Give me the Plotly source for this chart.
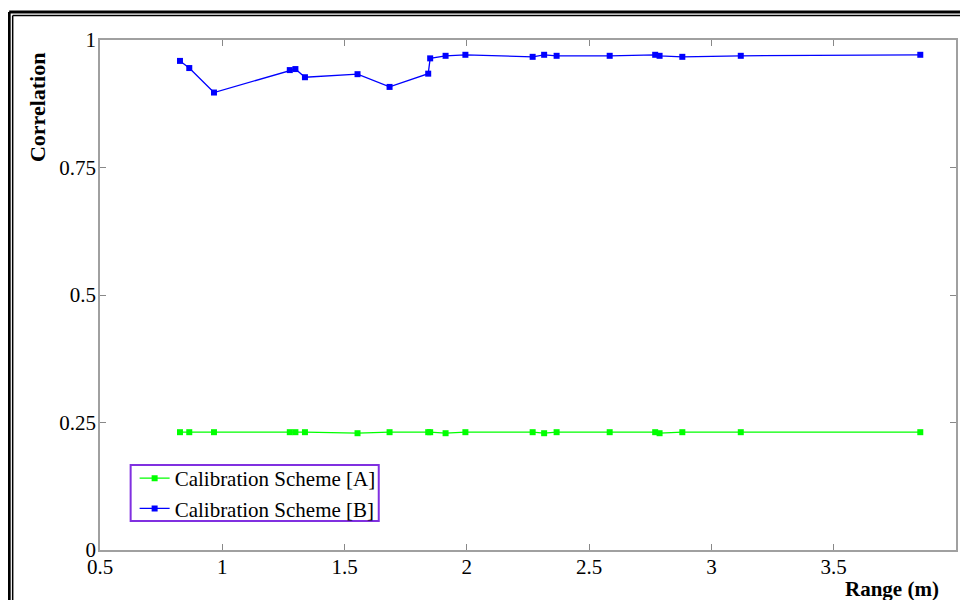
import plotly.graph_objects as go

# ---- data ----
range_m = [0.827, 0.865, 0.966, 1.276, 1.299, 1.338, 1.553, 1.684, 1.842, 1.850,
           1.913, 1.994, 2.269, 2.316, 2.367, 2.584, 2.770, 2.788, 2.881, 3.120, 3.854]
corr_a = [0.231, 0.231, 0.231, 0.231, 0.231, 0.231, 0.229, 0.231, 0.231, 0.231,
          0.229, 0.231, 0.231, 0.229, 0.231, 0.231, 0.231, 0.229, 0.231, 0.231, 0.231]
corr_b = [0.959, 0.945, 0.897, 0.941, 0.943, 0.927, 0.933, 0.908, 0.934, 0.964,
          0.969, 0.971, 0.967, 0.971, 0.969, 0.969, 0.971, 0.969, 0.967, 0.969, 0.971]
series_names = ["Calibration Scheme [A]", "Calibration Scheme [B]"]
x_ticks = [0.5, 1, 1.5, 2, 2.5, 3, 3.5, 4]
x_ticklabels = ["0.5", "1", "1.5", "2", "2.5", "3", "3.5", "4"]
y_ticks = [0, 0.25, 0.5, 0.75, 1]
y_ticklabels = ["0", "0.25", "0.5", "0.75", "1"]

# page has an 8px body margin: figure pixel = reference pixel - 8
OFF = 8
W, H = 952, 592
L, T = 100 - OFF, 40 - OFF
R = W - (957.7 - OFF)
B = H - (550 - OFF)
PW, PH = W - L - R, H - T - B

def px(xr):
    return (xr - OFF - L) / PW

def py(yr):
    return (H - B - (yr - OFF)) / PH

FONT = "Liberation Serif"
AXC = "#a0a0a0"

fig = go.Figure()
fig.add_trace(go.Scatter(x=range_m, y=corr_a, name=series_names[0], mode="lines+markers",
                         line=dict(color="#00ff00", width=1.3),
                         marker=dict(symbol="square", size=6, color="#00ff00")))
fig.add_trace(go.Scatter(x=range_m, y=corr_b, name=series_names[1], mode="lines+markers",
                         line=dict(color="#0000ff", width=1.3),
                         marker=dict(symbol="square", size=6, color="#0000ff")))

axis_common = dict(showline=True, linecolor=AXC, linewidth=1.5, mirror="ticks",
                   ticks="inside", ticklen=6, tickcolor="#888888", tickwidth=1,
                   showgrid=False, zeroline=False,
                   tickfont=dict(family=FONT, size=21, color="black"))

fig.update_xaxes(range=[0.5, 4], tickvals=x_ticks, ticktext=x_ticklabels, ticklabelstandoff=-3,
                 **axis_common)
fig.update_yaxes(range=[0, 1], tickvals=y_ticks, ticktext=y_ticklabels, ticklabelstandoff=-2,
                 **axis_common)

shapes = []
# double frame (outer thick, inner thin), open at right and bottom
shapes.append(dict(type="line", xref="paper", yref="paper", x0=px(9), x1=px(990), y0=py(12), y1=py(12),
                   line=dict(color="black", width=3)))
shapes.append(dict(type="line", xref="paper", yref="paper", x0=px(9), x1=px(9), y0=py(12), y1=py(640),
                   line=dict(color="black", width=3)))
shapes.append(dict(type="line", xref="paper", yref="paper", x0=px(12.5), x1=px(990), y0=py(15.5), y1=py(15.5),
                   line=dict(color="black", width=1.5)))
shapes.append(dict(type="line", xref="paper", yref="paper", x0=px(12.5), x1=px(12.5), y0=py(15.5), y1=py(640),
                   line=dict(color="black", width=1.5)))
# legend box border
shapes.append(dict(type="rect", xref="paper", yref="paper", x0=px(130.7), x1=px(379.3), y0=py(465), y1=py(521),
                   line=dict(color="#8030e0", width=2), fillcolor="white", layer="below"))

annotations = [
    dict(text="<b>Correlation</b>", textangle=-90, xref="paper", yref="paper",
         x=px(38), y=py(107), showarrow=False, xanchor="center", yanchor="middle",
         font=dict(family=FONT, size=22, color="black")),
    dict(text="<b>Range (m)</b>", xref="paper", yref="paper",
         x=px(894), y=py(589), showarrow=False, xanchor="center", yanchor="middle",
         font=dict(family=FONT, size=21, color="black")),
]

fig.update_layout(
    width=W, height=H,
    font=dict(family=FONT, size=21, color="black"),
    margin=dict(l=L, r=R, t=T, b=B, pad=0),
    paper_bgcolor="white", plot_bgcolor="white",
    shapes=shapes, annotations=annotations,
    showlegend=True,
    legend=dict(x=px(134.7), y=py(458), xanchor="left", yanchor="top",
                bgcolor="rgba(0,0,0,0)", borderwidth=0,
                font=dict(family=FONT, size=21, color="black"),
                tracegroupgap=0, itemwidth=30),
)

fig.write_html("out.html")
